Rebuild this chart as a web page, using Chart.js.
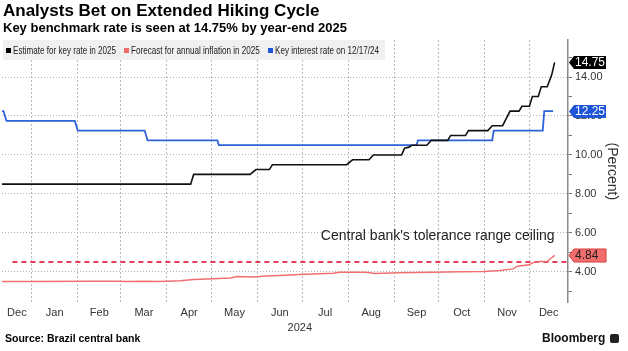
<!DOCTYPE html>
<html>
<head>
<meta charset="utf-8">
<script src="https://cdn.jsdelivr.net/npm/chart.js@4.4.1/dist/chart.umd.min.js"></script>
<style>
  html, body { margin: 0; padding: 0; background: #fff; }
  body { width: 628px; height: 351px; position: relative; overflow: hidden;
         font-family: 'Liberation Sans', Arial, sans-serif; color: #000; }
  #chart { position: absolute; left: 0; top: 0; }
  .title { position: absolute; left: 3px; top: 1px; font-size: 17px; font-weight: bold; line-height: 20px; white-space: nowrap; }
  .subtitle { position: absolute; left: 3px; top: 20px; font-size: 13px; font-weight: bold; line-height: 16px; white-space: nowrap; }
  #legend { position: absolute; left: 3px; top: 40px; width: 382px; height: 20px; background: #f0f0f0;
            font-size: 10px; color: #222; white-space: nowrap; }
  #legend i { position: absolute; top: 8px; width: 5px; height: 5px; }
  #legend span { position: absolute; top: 0; line-height: 21px; transform: scaleX(0.81); transform-origin: 0 50%; }
  #source { position: absolute; left: 5px; top: 332px; font-size: 10.5px; font-weight: bold; line-height: 12px; }
  #brand { position: absolute; left: 542px; top: 331px; font-size: 12px; font-weight: bold; line-height: 14px; color: #111; }
  #brand .logo { display: inline-block; width: 9px; height: 9px; background: #222; border-radius: 2px; margin-left: 5px; vertical-align: -1px; }
</style>
</head>
<body>
<canvas id="chart" width="628" height="351"></canvas>
<div class="title">Analysts Bet on Extended Hiking Cycle</div>
<div class="subtitle">Key benchmark rate is seen at 14.75% by year-end 2025</div>
<div id="legend">
  <i style="left:3px;background:#000"></i><span style="left:10px">Estimate for key rate in 2025</span>
  <i style="left:121px;background:#f06a6a"></i><span style="left:128px">Forecast for annual inflation in 2025</span>
  <i style="left:265px;background:#1f55d6"></i><span style="left:272px">Key interest rate on 12/17/24</span>
</div>
<div id="source">Source: Brazil central bank</div>
<div id="brand">Bloomberg<span class="logo"></span></div>
<script>
// 数据
const estimateDates = ['2023-12-12', '2024-04-17', '2024-04-19', '2024-05-27', '2024-05-31', '2024-06-09', '2024-06-11',
  '2024-07-31', '2024-08-04', '2024-08-15', '2024-08-18', '2024-09-06', '2024-09-08', '2024-09-11', '2024-09-13',
  '2024-09-23', '2024-09-26', '2024-10-07', '2024-10-09', '2024-10-19', '2024-10-21', '2024-11-03', '2024-11-06',
  '2024-11-13', '2024-11-18', '2024-11-24', '2024-11-26', '2024-12-01', '2024-12-03', '2024-12-07', '2024-12-09',
  '2024-12-13', '2024-12-16', '2024-12-18'];
const estimateValues = [8.5, 8.5, 9.0, 9.0, 9.25, 9.25, 9.5,
  9.5, 9.75, 9.75, 10.0, 10.0, 10.35, 10.4, 10.5,
  10.5, 10.75, 10.75, 11.0, 11.0, 11.25, 11.25, 11.5,
  11.5, 12.25, 12.25, 12.5, 12.5, 13.0, 13.0, 13.5,
  13.5, 14.1, 14.75];

const inflationDates = ['2023-12-12', '2023-12-31', '2024-02-11', '2024-02-27', '2024-03-05', '2024-03-16', '2024-03-27',
  '2024-04-10', '2024-04-19', '2024-05-02', '2024-05-14', '2024-05-18', '2024-05-29', '2024-06-07', '2024-06-20',
  '2024-06-29', '2024-07-22', '2024-07-26', '2024-08-13', '2024-08-19', '2024-09-04', '2024-09-27', '2024-10-15',
  '2024-10-31', '2024-11-11', '2024-11-20', '2024-11-23', '2024-12-01', '2024-12-03', '2024-12-08', '2024-12-13',
  '2024-12-15', '2024-12-18'];
const inflationValues = [3.50, 3.50, 3.52, 3.52, 3.50, 3.52, 3.50,
  3.54, 3.61, 3.64, 3.68, 3.76, 3.74, 3.78, 3.83,
  3.86, 3.93, 3.98, 3.98, 3.91, 3.95, 3.98, 4.00,
  4.02, 4.07, 4.15, 4.29, 4.36, 4.46, 4.53, 4.53,
  4.66, 4.84];

const selicDates = ['2023-12-12', '2023-12-13', '2023-12-15', '2024-01-30', '2024-02-01', '2024-03-17', '2024-03-19',
  '2024-05-05', '2024-05-06', '2024-09-16', '2024-09-17', '2024-11-06', '2024-11-07', '2024-12-10', '2024-12-11',
  '2024-12-17'];
const selicValues = [12.25, 12.25, 11.75, 11.75, 11.25, 11.25, 10.75,
  10.75, 10.50, 10.50, 10.75, 10.75, 11.25, 11.25, 12.25,
  12.25];

const ceilingDates = ['2023-12-19', '2024-12-27'];
const ceilingValues = [4.5, 4.5];
const ceilingLabel = "Central bank's tolerance range ceiling";

// 坐标轴
const axisStart = '2023-12-12';
const axisEnd = '2024-12-27';
const monthStarts = ['2023-12-01', '2024-01-01', '2024-02-01', '2024-03-01', '2024-04-01', '2024-05-01', '2024-06-01',
  '2024-07-01', '2024-08-01', '2024-09-01', '2024-10-01', '2024-11-01', '2024-12-01', '2025-01-01'];
const monthLabels = ['Dec', 'Jan', 'Feb', 'Mar', 'Apr', 'May', 'Jun', 'Jul', 'Aug', 'Sep', 'Oct', 'Nov', 'Dec'];
const yearStarts = ['2024-01-01', '2025-01-01'];
const yearLabels = ['2024'];
const yTicks = [3, 4, 5, 6, 7, 8, 9, 10, 11, 12, 13, 14, 15];
const yMin = 2.42, yMax = 15.9;

// 日期 -> 天数（以 2024-01-01 为 0）
const DAY0 = Date.UTC(2024, 0, 1);
function dayOf(s) {
  const p = s.split('-').map(Number);
  return (Date.UTC(p[0], p[1] - 1, p[2]) - DAY0) / 86400000;
}
function toPoints(dates, values) {
  return dates.map((d, i) => ({ x: dayOf(d), y: values[i] }));
}

const xMin = dayOf(axisStart), xMax = dayOf(axisEnd);
const gridDays = monthStarts.map(dayOf).filter(v => v > xMin && v < xMax);
// 月份标签放在每个月可见部分的中间
const monthCenters = monthLabels.map((m, i) => {
  const a = Math.max(dayOf(monthStarts[i]), xMin);
  const b = Math.min(dayOf(monthStarts[i + 1]), xMax);
  return (a + b) / 2;
});
const yearCenters = yearLabels.map((y, i) => {
  const a = Math.max(dayOf(yearStarts[i]), xMin);
  const b = Math.min(dayOf(yearStarts[i + 1]), xMax);
  return (a + b) / 2;
});

const FONT = "'Liberation Sans', Arial, sans-serif";
Chart.defaults.font.family = FONT;
Chart.defaults.color = '#333';

// 最新值标签
const tagStyles = [
  { dataset: 0, bg: '#000', fg: '#fff', border: null },
  { dataset: 2, bg: '#1f55d6', fg: '#fff', border: null },
  { dataset: 1, bg: '#f26d6d', fg: '#222', border: '#d43c3c' }
];
const lastValueTags = {
  id: 'lastValueTags',
  afterDraw(chart) {
    const ctx = chart.ctx;
    const ys = chart.scales.y;
    const x0 = chart.chartArea.right + 1;
    tagStyles.forEach(t => {
      const data = chart.data.datasets[t.dataset].data;
      const v = data[data.length - 1].y;
      const yc = Math.round(ys.getPixelForValue(v)) + 0.5;
      const h = 13, w = 32, a = 5;
      ctx.save();
      ctx.beginPath();
      ctx.moveTo(x0, yc);
      ctx.lineTo(x0 + a, yc - h / 2);
      ctx.lineTo(x0 + a + w, yc - h / 2);
      ctx.lineTo(x0 + a + w, yc + h / 2);
      ctx.lineTo(x0 + a, yc + h / 2);
      ctx.closePath();
      ctx.fillStyle = t.bg;
      ctx.fill();
      if (t.border) {
        ctx.strokeStyle = t.border;
        ctx.lineWidth = 1;
        ctx.stroke();
      }
      ctx.fillStyle = t.fg;
      ctx.font = '12px ' + FONT;
      ctx.textAlign = 'left';
      ctx.textBaseline = 'middle';
      ctx.fillText(v.toFixed(2), x0 + a + 1, yc + 0.5);
      ctx.restore();
    });
  }
};

// 容忍上限说明文字
const ceilingText = {
  id: 'ceilingText',
  afterDatasetsDraw(chart) {
    const ctx = chart.ctx;
    const x = chart.scales.x.getPixelForValue(dayOf('2024-12-18'));
    const y = chart.scales.y.getPixelForValue(5.85);
    ctx.save();
    ctx.font = '14px ' + FONT;
    ctx.fillStyle = '#222';
    ctx.textAlign = 'right';
    ctx.textBaseline = 'middle';
    ctx.fillText(ceilingLabel, x, y);
    ctx.restore();
  }
};

const ctx = document.getElementById('chart');
new Chart(ctx, {
  type: 'line',
  data: {
    datasets: [
      { label: 'Estimate for key rate in 2025', data: toPoints(estimateDates, estimateValues),
        borderColor: '#111', borderWidth: 1.6, pointRadius: 0, tension: 0 },
      { label: 'Forecast for annual inflation in 2025', data: toPoints(inflationDates, inflationValues),
        borderColor: '#f07070', borderWidth: 1.5, pointRadius: 0, tension: 0 },
      { label: 'Key interest rate on 12/17/24', data: toPoints(selicDates, selicValues),
        borderColor: '#2d62d8', borderWidth: 1.8, pointRadius: 0, tension: 0 },
      { label: 'ceiling', data: toPoints(ceilingDates, ceilingValues),
        borderColor: '#e03c5c', borderWidth: 2, borderDash: [5, 4], pointRadius: 0, tension: 0 }
    ]
  },
  options: {
    responsive: false,
    devicePixelRatio: 1,
    animation: false,
    layout: { padding: { left: 2, right: 0, top: 40, bottom: 18 } },
    plugins: {
      legend: { display: false },
      title: { display: false },
      tooltip: { enabled: false }
    },
    scales: {
      x: {
        type: 'linear', position: 'bottom', min: xMin, max: xMax, bounds: 'data', weight: 0,
        afterBuildTicks: s => { s.ticks = gridDays.map(v => ({ value: v })); },
        ticks: { display: false },
        grid: { color: '#b8b8b8', lineWidth: 1, drawTicks: false },
        border: { display: false, dash: [2, 2] }
      },
      xm: {
        type: 'linear', position: 'bottom', min: xMin, max: xMax, bounds: 'data', weight: 1,
        afterBuildTicks: s => { s.ticks = monthCenters.map(v => ({ value: v })); },
        ticks: { autoSkip: false, maxRotation: 0, padding: 3.5, color: '#333', font: { size: 11 },
                 callback: (v, i) => monthLabels[i] },
        grid: { display: false, drawTicks: false },
        border: { display: false }
      },
      xy: {
        type: 'linear', position: 'bottom', min: xMin, max: xMax, bounds: 'data', weight: 2,
        afterBuildTicks: s => { s.ticks = yearCenters.map(v => ({ value: v })); },
        ticks: { autoSkip: false, maxRotation: 0, padding: -1.5, color: '#333', font: { size: 11 },
                 callback: (v, i) => yearLabels[i] },
        grid: { display: false, drawTicks: false },
        border: { display: false }
      },
      y: {
        type: 'linear', position: 'right', min: yMin, max: yMax, bounds: 'data',
        afterBuildTicks: s => { s.ticks = yTicks.map(v => ({ value: v })); },
        afterFit: s => { s.width = 60; },
        ticks: { padding: 3, color: '#333', font: { size: 11 },
                 callback: v => (v % 2 === 0 ? v.toFixed(2) : '') },
        grid: {
          color: c => (c.tick && c.tick.value % 2 === 0 ? '#b5b5b5' : 'rgba(0,0,0,0)'),
          tickColor: '#777', tickLength: 4, lineWidth: 1
        },
        border: { display: true, color: '#8a8a8a', width: 1.5, dash: [1, 2] },
        title: { display: true, text: '(Percent)', color: '#333', font: { size: 14 }, padding: { top: 8, bottom: 0 } }
      }
    }
  },
  plugins: [ceilingText, lastValueTags]
});
</script>
</body>
</html>
